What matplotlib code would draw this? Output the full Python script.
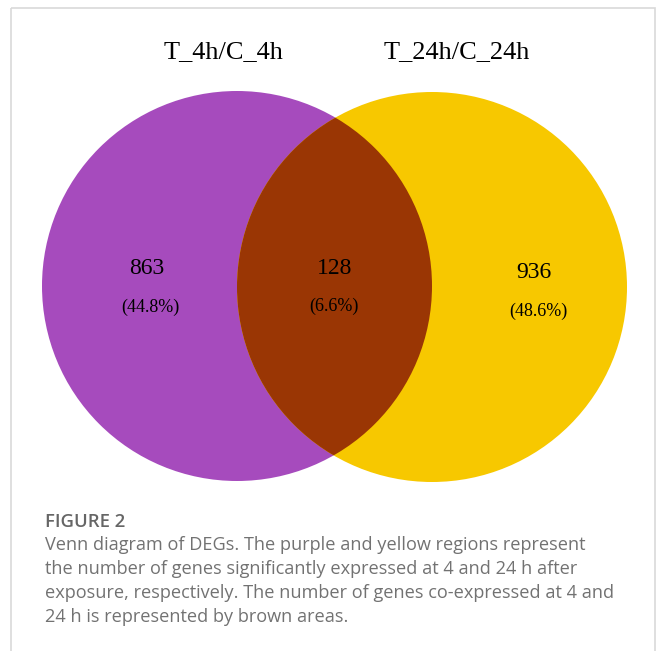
import matplotlib
matplotlib.use('Agg')
import matplotlib.pyplot as plt
from matplotlib.patches import Circle, Rectangle

W, H = 656, 651

# Venn data
set_names = ['T_4h/C_4h', 'T_24h/C_24h']
only_left, both, only_right = 863, 128, 936
counts = [only_left, both, only_right]
total = sum(counts)
percents = [c / total * 100 for c in counts]

caption_title = 'FIGURE 2'
caption_lines = [
    'Venn diagram of DEGs. The purple and yellow regions represent',
    'the number of genes significantly expressed at 4 and 24 h after',
    'exposure, respectively. The number of genes co-expressed at 4 and',
    '24 h is represented by brown areas.',
]

purple = '#a64bbd'
yellow = '#f7c800'
brown = '#9a3604'

fig = plt.figure(figsize=(W / 100, H / 100), dpi=100)
ax = fig.add_axes([0, 0, 1, 1])
ax.set_xlim(0, W)
ax.set_ylim(H, 0)
ax.axis('off')

# light frame around the figure panel
ax.add_patch(Rectangle((10.5, 7.5), 644.5, 700, fill=False, ec='#d9d9d9', lw=1.2))

r = 195
cl = (237, 286)
cr = (432, 287)
left = Circle(cl, r, fc=purple, ec='none')
right = Circle(cr, r, fc=yellow, ec='none')
ax.add_patch(left)
ax.add_patch(right)
lens = Circle(cr, r, fc=brown, ec='none')
ax.add_patch(lens)
lens.set_clip_path(left)

serif = 'Liberation Serif'
ax.text(223, 52, set_names[0], family=serif, fontsize=19, ha='center', va='center')
ax.text(457, 52, set_names[1], family=serif, fontsize=19, ha='center', va='center')

num_pos = [(147, 269), (335, 269), (534, 273)]
pct_pos = [(150, 307), (334, 306), (538, 311)]
for c, p, (nx, ny), (px, py) in zip(counts, percents, num_pos, pct_pos):
    ax.text(nx, ny, str(c), family=serif, fontsize=17, ha='center', va='center')
    ax.text(px, py, f'({p:.1f}%)', family=serif, fontsize=13, ha='center', va='center')

ax.text(45, 527, caption_title, family='Open Sans', fontweight='semibold', fontsize=13.3,
        color='#666666', ha='left', va='baseline')
for i, line in enumerate(caption_lines):
    ax.text(45, 550 + 24 * i, line, family='Open Sans', fontsize=13.1,
            color='#727272', ha='left', va='baseline')

fig.savefig('out.png', dpi=100)
